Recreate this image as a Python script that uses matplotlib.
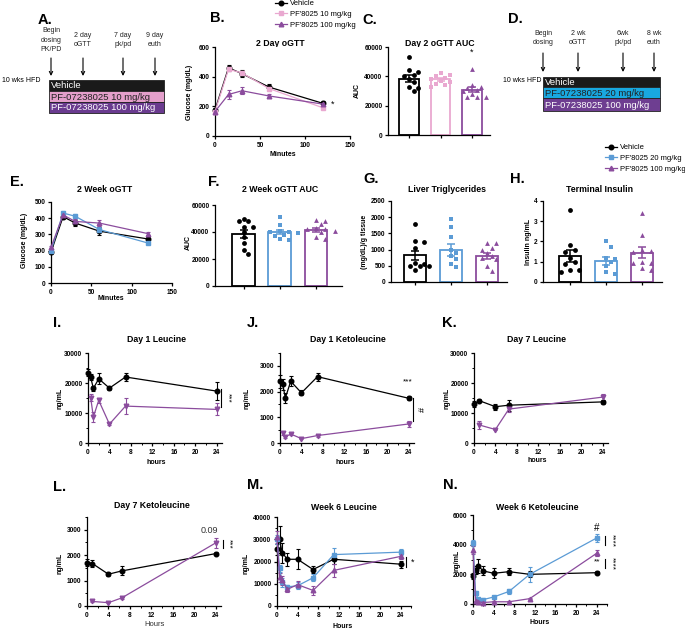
import numpy as np
import matplotlib
matplotlib.use("Agg")
from matplotlib import pyplot as plt
from matplotlib.patches import Rectangle
from matplotlib.lines import Line2D
from matplotlib.ticker import MultipleLocator

plt.rcParams['font.family'] = ['Liberation Sans', 'DejaVu Sans']
plt.rcParams['font.weight'] = 'bold'

W, H = 685, 631

BLACK = '#000000'
PINK = '#E9A8D0'
PURPLE = '#8B4C9D'
BLUE = '#5B9BD5'

# ---------------- data ----------------
gtt_min = [0, 15, 30, 60, 120]
d2_veh = [175, 460, 420, 330, 220]
d2_veh_err = [15, 22, 22, 20, 15]
d2_10 = [165, 450, 425, 320, 190]
d2_10_err = [10, 15, 15, 15, 10]
d2_100 = [165, 280, 305, 270, 215]
d2_100_err = [10, 28, 22, 15, 12]

w2_veh = [190, 410, 370, 320, 272]
w2_veh_err = [8, 15, 20, 25, 15]
w2_20 = [200, 432, 412, 330, 247]
w2_20_err = [8, 12, 15, 15, 8]
w2_100 = [220, 420, 380, 370, 305]
w2_100_err = [8, 10, 15, 20, 10]

c_mean = [38500, 38000, 31000]
c_sem = [2500, 1200, 1800]
c_veh_pts = [53000, 44000, 43000, 41000, 40000, 38000, 36000, 33000, 32000, 30000]
c_10_pts = [42000, 41000, 40000, 39000, 38000, 37000, 36000, 35000, 34000, 33000]
c_100_pts = [45000, 34000, 33000, 32000, 31000, 30000, 28000, 26000, 26000, 26000]

f_mean = [38500, 40000, 41500]
f_sem = [2800, 1800, 1500]
f_veh_pts = [50000, 48000, 48000, 44000, 44000, 40000, 36000, 32000, 27000, 24000]
f_20_pts = [51000, 45000, 41000, 40000, 40000, 39000, 38000, 37000, 35000, 34000]
f_100_pts = [49000, 48000, 46000, 43000, 42000, 42000, 41000, 40000, 36000, 35000]

g_mean = [820, 980, 790]
g_sem = [150, 180, 90]
g_veh_pts = [1800, 1270, 1220, 1050, 600, 550, 500, 480, 480, 380]
g_20_pts = [1950, 1700, 1400, 1000, 900, 800, 700, 550, 450]
g_100_pts = [1200, 1200, 1050, 1000, 900, 800, 750, 700, 500, 350]

h_mean = [1.3, 1.05, 1.45]
h_sem = [0.3, 0.2, 0.28]
h_veh_pts = [3.55, 1.85, 1.6, 1.5, 1.2, 1.0, 0.9, 0.6, 0.6, 0.5]
h_20_pts = [2.0, 1.75, 1.2, 1.15, 1.0, 0.8, 0.5, 0.4]
h_100_pts = [3.4, 2.3, 1.6, 1.55, 1.5, 1.0, 0.95, 0.95, 0.7, 0.6]

d1_t_veh = [0, 0.5, 1, 2, 4, 7, 24]
d1_t_pf = [0.5, 1, 2, 4, 7, 24]
i_veh = [23500, 21900, 18200, 21400, 18300, 22000, 17300]
i_veh_err = [1200, 1000, 700, 1800, 500, 1300, 3000]
i_pf = [15100, 8700, 14200, 6300, 12300, 11200]
i_pf_err = [1200, 1800, 800, 400, 2700, 2000]

j_veh = [2400, 2280, 1750, 2400, 1950, 2580, 1740]
j_veh_err = [250, 200, 200, 200, 100, 150, 80]
j_pf = [370, 240, 350, 170, 290, 740]
j_pf_err = [60, 50, 40, 30, 40, 120]

d7_t_veh = [0, 1, 4, 6.5, 24]
d7_t_pf = [1, 4, 6.5, 24]
k_veh = [12900, 14100, 12100, 12600, 13700]
k_veh_err = [1000, 500, 1000, 1800, 800]
k_pf = [6000, 4500, 11300, 15300]
k_pf_err = [1200, 300, 900, 1200]

l_veh = [1710, 1670, 1250, 1380, 2060]
l_veh_err = [150, 120, 80, 180, 50]
l_pf = [180, 130, 320, 2480]
l_pf_err = [30, 20, 50, 180]

w6_t = [0, 0.5, 1, 2, 4, 7, 11, 24]
m_veh = [25500, 30000, 24000, 21000, 21000, 16400, 21000, 18800]
m_veh_err = [2500, 6000, 4500, 3000, 4500, 1500, 2000, 1500]
m_20 = [30000, 16900, 10600, 8600, 9100, 12700, 23100, 24200]
m_20_err = [2000, 1500, 2000, 1000, 1500, 1500, 3000, 1500]
m_100 = [31000, 13000, 11500, 7500, 9600, 7000, 16000, 22300]
m_100_err = [2500, 2000, 2000, 1200, 1500, 2000, 3000, 1000]

n_veh = [1890, 2290, 2560, 2230, 2070, 2180, 2000, 2110]
n_veh_err = [200, 300, 500, 300, 350, 250, 200, 100]
n_20 = [4130, 740, 340, 300, 470, 850, 2000, 4450]
n_20_err = [200, 150, 100, 80, 100, 150, 500, 250]
n_100 = [3640, 200, 150, 100, 150, 150, 360, 3420]
n_100_err = [300, 30, 30, 30, 30, 30, 50, 200]


# ---------------- helpers ----------------
fig = plt.figure(figsize=(W / 100, H / 100), dpi=100)

ov = fig.add_axes([0, 0, 1, 1])
ov.set_xlim(0, W)
ov.set_ylim(H, 0)
ov.axis('off')


def panel(l, t, r, b):
    return fig.add_axes([l / W, 1 - b / H, (r - l) / W, (b - t) / H])


def style(ax):
    for s in ['top', 'right']:
        ax.spines[s].set_visible(False)
    for s in ['left', 'bottom']:
        ax.spines[s].set_linewidth(0.9)
    ax.tick_params(width=0.9, length=2.5, labelsize=4.7, pad=1.5)
    ax.tick_params(which='minor', width=0.7, length=1.5)


def lbl(x, y, s, size=5, rot=0, weight='bold', **kw):
    ov.text(x, y, s, fontsize=size, rotation=rot, ha='center', va='center',
            fontweight=weight, **kw)


def curve(ax, t, y, err, color, marker, ms=3.3):
    ax.errorbar(t, y, yerr=err, color=color, marker=marker, ms=ms, lw=0.9,
                elinewidth=0.8, capsize=1.6, capthick=0.8, clip_on=False, zorder=3)


def swarm(ax, center, vals, diam=5.2):
    # simple beeswarm: push points sideways until they stop overlapping
    placed = []
    xs = []
    cx = ax.transData.transform((center, 0))[0]
    for v in vals:
        py = ax.transData.transform((center, v))[1]
        k = 0
        while True:
            off = ((k + 1) // 2) * (1 if k % 2 else -1) * diam * 0.9
            px = cx + off
            if all((px - qx) ** 2 + (py - qy) ** 2 >= diam ** 2 for qx, qy in placed):
                break
            k += 1
        placed.append((px, py))
        xs.append(ax.transData.inverted().transform((px, py))[0])
    return xs


def bars(ax, means, sems, groups, colors, markers, width=0.63):
    for i, (m, e, pts, c, mk) in enumerate(zip(means, sems, groups, colors, markers)):
        ax.bar(i, m, width=width, facecolor='white', edgecolor=c, lw=1.3, zorder=1)
        vals = sorted(pts, reverse=True)
        xs = swarm(ax, i, vals)
        ax.scatter(xs, vals, s=12, color=c, marker=mk, lw=0, zorder=3, clip_on=False)
        ax.errorbar(i, m, yerr=e, color=c, capsize=3, lw=1.1, capthick=1.1, zorder=4)
    ax.set_xticks([0, 1, 2])
    ax.set_xticklabels([])


# ---------------- B ----------------
ax = panel(215, 47, 350, 136)
style(ax)
curve(ax, gtt_min, d2_veh, d2_veh_err, BLACK, 'o')
curve(ax, gtt_min, d2_10, d2_10_err, PINK, 's')
curve(ax, gtt_min, d2_100, d2_100_err, PURPLE, '^')
ax.set_xlim(0, 150)
ax.set_ylim(0, 600)
ax.set_xticks([0, 50, 100, 150])
ax.set_yticks([0, 200, 400, 600])
ax.text(131, 215, '*', fontsize=6.5, ha='center', va='center', fontweight='normal')

# ---------------- C ----------------
ax = panel(388, 47, 490, 135)
style(ax)
ax.set_ylim(0, 60000)
ax.set_xlim(-0.67, 2.57)
ax.set_yticks([0, 20000, 40000, 60000])
bars(ax, c_mean, c_sem, [c_veh_pts, c_10_pts, c_100_pts], [BLACK, PINK, PURPLE], ['o', 's', '^'])
ax.text(2, 56600, '*', fontsize=6.5, ha='center', va='center', fontweight='normal')

# ---------------- E ----------------
ax = panel(51, 202, 172, 283)
style(ax)
curve(ax, gtt_min, w2_veh, w2_veh_err, BLACK, 'o')
curve(ax, gtt_min, w2_20, w2_20_err, BLUE, 's')
curve(ax, gtt_min, w2_100, w2_100_err, PURPLE, '^')
ax.set_xlim(0, 150)
ax.set_ylim(0, 500)
ax.set_xticks([0, 50, 100, 150])
ax.set_yticks(range(0, 501, 100))

# ---------------- F ----------------
ax = panel(215, 205, 342, 286)
style(ax)
ax.set_ylim(0, 60000)
ax.set_xlim(-0.79, 2.72)
ax.set_yticks([0, 20000, 40000, 60000])
bars(ax, f_mean, f_sem, [f_veh_pts, f_20_pts, f_100_pts], [BLACK, BLUE, PURPLE], ['o', 's', '^'])

# ---------------- G ----------------
ax = panel(391, 201, 507, 282)
style(ax)
ax.set_ylim(0, 2500)
ax.set_xlim(-0.67, 2.56)
ax.set_yticks(range(0, 2501, 500))
bars(ax, g_mean, g_sem, [g_veh_pts, g_20_pts, g_100_pts], [BLACK, BLUE, PURPLE], ['o', 's', '^'])

# ---------------- H ----------------
ax = panel(543, 201, 662, 282)
style(ax)
ax.set_ylim(0, 4)
ax.set_xlim(-0.75, 2.56)
ax.set_yticks([0, 1, 2, 3, 4])
bars(ax, h_mean, h_sem, [h_veh_pts, h_20_pts, h_100_pts], [BLACK, BLUE, PURPLE], ['o', 's', '^'])


def hours_axis(ax, xmax, ymax, major, minor):
    style(ax)
    ax.set_xlim(0, xmax)
    ax.set_ylim(0, ymax)
    ax.set_xticks(range(0, 25, 4))
    ax.xaxis.set_minor_locator(MultipleLocator(2))
    ax.yaxis.set_major_locator(MultipleLocator(major))
    ax.yaxis.set_minor_locator(MultipleLocator(minor))


def sig(ax, x, y0, y1, s, xt, size=6):
    ax.plot([x, x], [y0, y1], color='k', lw=0.8, clip_on=False)
    ax.text(xt, (y0 + y1) / 2, s, fontsize=size, rotation=270, ha='center', va='center',
            fontweight='normal')


# ---------------- I ----------------
ax = panel(88, 353, 222, 443)
hours_axis(ax, 25, 30000, 10000, 5000)
curve(ax, d1_t_veh, i_veh, i_veh_err, BLACK, 'o')
curve(ax, d1_t_pf, i_pf, i_pf_err, PURPLE, 'v')
sig(ax, 24.75, 12000, 18000, '***', 26.1)

# ---------------- J ----------------
ax = panel(280, 353, 414, 443)
hours_axis(ax, 25, 3500, 1000, 500)
ax.set_yticks([0, 1000, 2000, 3000])
curve(ax, d1_t_veh, j_veh, j_veh_err, BLACK, 'o')
curve(ax, d1_t_pf, j_pf, j_pf_err, PURPLE, 'v')
sig(ax, 24.75, 855, 1750, '#', 26.1, size=6.5)
ax.text(23.8, 2370, '***', fontsize=6, ha='center', va='center', fontweight='normal')

# ---------------- K ----------------
ax = panel(474, 353, 608, 443)
hours_axis(ax, 25, 30000, 10000, 5000)
curve(ax, d7_t_veh, k_veh, k_veh_err, BLACK, 'o')
curve(ax, d7_t_pf, k_pf, k_pf_err, PURPLE, 'v')

# ---------------- L ----------------
ax = panel(87, 517, 221, 606)
hours_axis(ax, 25, 3500, 1000, 500)
ax.set_yticks([0, 1000, 2000, 3000])
curve(ax, d7_t_veh, l_veh, l_veh_err, BLACK, 'o')
curve(ax, d7_t_pf, l_pf, l_pf_err, PURPLE, 'v')
sig(ax, 25.3, 2280, 2595, '***', 26.4)
ax.text(22.9, 2950, '0.09', fontsize=6.5, ha='center', va='center',
        fontweight='normal', color='#333333')

# ---------------- M ----------------
ax = panel(277, 517, 411, 606)
hours_axis(ax, 26, 40000, 10000, 5000)
curve(ax, w6_t, m_veh, m_veh_err, BLACK, 'o')
curve(ax, w6_t, m_20, m_20_err, BLUE, 's')
curve(ax, w6_t, m_100, m_100_err, PURPLE, '^')
ax.plot([25.1, 25.1], [17500, 22000], color='k', lw=0.8, clip_on=False)
ax.text(26.4, 19700, '*', fontsize=6.5, ha='center', va='center', fontweight='normal')

# ---------------- N ----------------
ax = panel(473, 515, 607, 604)
hours_axis(ax, 26, 6000, 2000, 1000)
curve(ax, w6_t, n_veh, n_veh_err, BLACK, 'o')
curve(ax, w6_t, n_20, n_20_err, BLUE, 's')
curve(ax, w6_t, n_100, n_100_err, PURPLE, '^')
ax.text(24, 5120, '#', fontsize=7, ha='center', va='center', fontweight='normal')
ax.text(24, 2830, '**', fontsize=6, ha='center', va='center', fontweight='normal')
sig(ax, 25.7, 3980, 4580, '****', 26.9)
sig(ax, 25.7, 2430, 3030, '****', 26.9)

# ---------------- titles and axis labels ----------------
for x, y, s in [(280, 43, '2 Day oGTT'), (440, 43, 'Day 2 oGTT AUC'),
                (105, 190, '2 Week oGTT'), (280, 189, '2 Week oGTT AUC'),
                (447, 189, 'Liver Triglycerides'), (600, 189, 'Terminal Insulin'),
                (157, 339, 'Day 1 Leucine'), (348, 339, 'Day 1 Ketoleucine'),
                (537, 339, 'Day 7 Leucine'), (152, 506, 'Day 7 Ketoleucine'),
                (344, 507, 'Week 6 Leucine'), (537, 507, 'Week 6 Ketoleucine')]:
    lbl(x, y, s, size=6.3)

lbl(190, 92, 'Glucose (mg/dL)', rot=90)
lbl(283, 155, 'Minutes')
lbl(357, 90, 'AUC', rot=90)
lbl(25, 240, 'Glucose (mg/dL)', rot=90)
lbl(111, 298, 'Minutes')
lbl(188, 242, 'AUC', rot=90)
lbl(365, 242, '(mg/dL)/g tissue', rot=90)
lbl(529, 242, 'Insulin ng/mL', rot=90)
lbl(60, 398, 'ng/mL', rot=90)
lbl(156, 462, 'hours')
lbl(247, 398, 'ng/mL', rot=90)
lbl(345, 462, 'hours')
lbl(447, 398, 'ng/mL', rot=90)
lbl(537, 461, 'hours')
lbl(60, 563, 'ng/mL', rot=90)
lbl(155, 624, 'Hours', weight='normal', color='#333333', size=5.5)
lbl(246, 563, 'ng/mL', rot=90)
lbl(343, 626, 'Hours')
lbl(457, 560, 'ng/mL', rot=90)
lbl(540, 623, 'Hours')

for x, y, s in [(38, 20, 'A.'), (210, 18, 'B.'), (362, 20, 'C.'), (508, 19, 'D.'),
                (10, 182, 'E.'), (208, 182, 'F.'), (363, 179, 'G.'), (510, 179, 'H.'),
                (53, 323, 'I.'), (247, 323, 'J.'), (442, 323, 'K.'),
                (53, 487, 'L.'), (247, 485, 'M.'), (443, 485, 'N.')]:
    ov.text(x, y, s, fontsize=10.5, ha='left', va='center', fontweight='bold')


# ---------------- study schematics (A, D) ----------------
def schematic(x0, x1, rows, events, hfd_x, hfd_y, ev_y, arrow_y0, arrow_y1):
    for (top, bot, face, txt, tc) in rows:
        ov.add_patch(Rectangle((x0, top), x1 - x0, bot - top, facecolor=face,
                               edgecolor='#222222', lw=0.6))
        ov.text(x0 + 2, (top + bot) / 2 + 0.5, txt, fontsize=6.8, color=tc,
                ha='left', va='center', fontweight='normal')
    for ex, s in events:
        ov.text(ex, ev_y, s, fontsize=5, ha='center', va='center', fontweight='normal',
                linespacing=1.45, color='#222222')
        ov.annotate('', xy=(ex, arrow_y1), xytext=(ex, arrow_y0),
                    arrowprops=dict(arrowstyle='->', lw=0.8, color='k',
                                    shrinkA=0, shrinkB=0, mutation_scale=6))
    ov.text(hfd_x, hfd_y, '10 wks HFD', fontsize=5, ha='left', va='center',
            fontweight='normal')


schematic(49, 164,
          [(80, 91, '#1A1A1A', 'Vehicle', 'white'),
           (91, 102, '#E49FCB', 'PF-07238025 10 mg/kg', '#222222'),
           (102, 113, '#6A3B8F', 'PF-07238025 100 mg/kg', 'white')],
          [(51, 'Begin\ndosing\nPK/PD'), (83, '2 day\noGTT'), (123, '7 day\npk/pd'),
           (155, '9 day\neuth')],
          2, 81, 40, 58, 76)
schematic(543, 660,
          [(77, 87, '#1A1A1A', 'Vehicle', 'white'),
           (87, 98, '#18A8E0', 'PF-07238025 20 mg/kg', '#222222'),
           (98, 111, '#6E3E91', 'PF-07238025 100 mg/kg', 'white')],
          [(543, 'Begin\ndosing'), (578, '2 wk\noGTT'), (623, '6wk\npk/pd'),
           (654, '8 wk\neuth')],
          503, 81, 38, 53, 72)


# ---------------- legends ----------------
def legend_at(x, y, items):
    handles = [Line2D([], [], color=c, marker=m, ms=3.3, lw=0.9) for c, m, _ in items]
    fig.legend(handles, [t for _, _, t in items], loc='upper left',
               bbox_to_anchor=(x / W, 1 - y / H), frameon=False,
               prop={'size': 5.5, 'weight': 'normal'}, handlelength=1.6,
               handletextpad=0.4, labelspacing=0.45, borderaxespad=0, borderpad=0)


legend_at(275, 0, [(BLACK, 'o', 'Vehicle'), (PINK, 's', "PF'8025 10 mg/kg"),
                   (PURPLE, '^', "PF'8025 100 mg/kg")])
legend_at(605, 144, [(BLACK, 'o', 'Vehicle'), (BLUE, 's', "PF'8025 20 mg/kg"),
                     (PURPLE, '^', "PF'8025 100 mg/kg")])

fig.savefig('out.png', dpi=100)
